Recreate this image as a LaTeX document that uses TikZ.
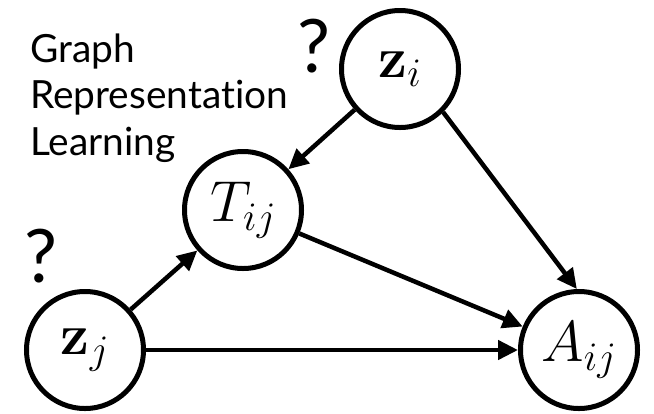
\RequirePackage{fix-cm}
\documentclass[tikz,border=0pt]{standalone}
\usepackage[no-math]{fontspec}
\setmainfont{Lato}[Ligatures=NoCommon]
\usetikzlibrary{arrows.meta}
\tikzset{
  var/.style={circle, draw=black, line width=5bp, minimum size=117bp, inner sep=0pt,
    font=\fontsize{58}{62}\selectfont},
  edge/.style={line width=4.5bp, -{Triangle[length=20bp,width=19bp]}},
  lbl/.style={anchor=base west, inner sep=0pt, font=\fontsize{39}{45}\selectfont},
  qmark/.style={inner sep=0pt, font=\fontsize{74}{80}\selectfont}
}
\begin{document}
\begin{tikzpicture}[x=1bp,y=-1bp]
\useasboundingbox (0,0) rectangle (654,413);
\node[var] (zi) at (400,69) {$\mathbf{z}_i$};
\node[var] (tij) at (243,210) {$T_{ij}$};
\node[var] (zj) at (85,350) {$\mathbf{z}_j$};
\node[var] (aij) at (579,350) {$A_{ij}$};
\node[lbl] (l1) at (30,62) {Graph};
\node[lbl] (l2) at (30,108.5) {Representation};
\node[lbl] (l3) at (30,155) {Learning};
\node[qmark] (q1) at (314,46) {?};
\node[qmark] (q2) at (41,256) {?};
\draw[edge] (zi) -- (tij);
\draw[edge] (zi.-45) -- (aij.92);
\draw[edge] (tij) -- (aij);
\draw[edge] (zj) -- (tij);
\draw[edge] (zj) -- (aij);
\end{tikzpicture}
\end{document}
